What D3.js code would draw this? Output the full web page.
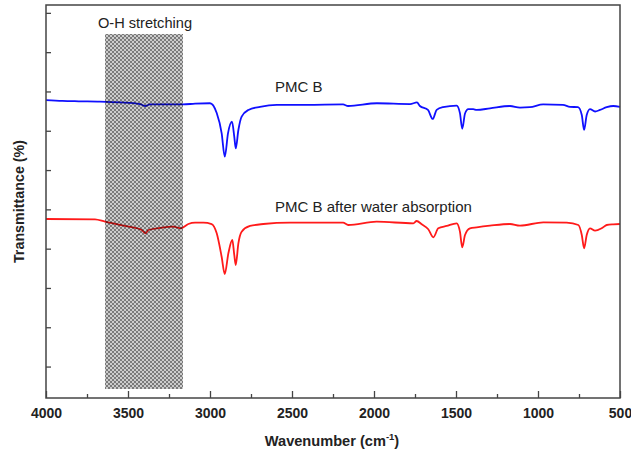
<!DOCTYPE html>
<html>
<head>
<meta charset="utf-8">
<script src="https://cdn.jsdelivr.net/npm/d3@7/dist/d3.min.js"></script>
<style>
  html, body { margin: 0; padding: 0; background: #fff; }
  svg { display: block; font-family: "Liberation Sans", Arial, sans-serif; }
</style>
</head>
<body>
<svg id="chart" width="631" height="453"></svg>
<script>
// FTIR spectra: wavenumber (cm-1) and transmittance (offset, arbitrary units)
const pmcB_wn = [4000, 3900, 3800, 3671, 3549, 3427, 3396, 3366, 3244, 3165, 3091, 3000,
  2959, 2929, 2910, 2890, 2866, 2852, 2843, 2827, 2807, 2766, 2695, 2593, 2410,
  2189, 2158, 1982, 1780, 1738, 1720, 1671, 1642, 1618, 1579, 1496, 1476, 1462,
  1445, 1425, 1395, 1374, 1293, 1171, 1110, 1049, 969, 848, 805, 756, 733, 719,
  703, 683, 652, 622, 581, 541, 500];
const pmcB_t = [67.8, 67.6, 67.5, 67.4, 67.2, 66.8, 66.3, 66.7, 66.7, 66.7, 66.9, 67.0,
  64.5, 59.4, 53.4, 59.4, 62.3, 58.5, 55.5, 60.2, 63.6, 65.3, 66.1, 66.6, 66.6,
  66.7, 66.3, 67.0, 66.8, 67.2, 66.3, 65.3, 63.0, 65.3, 66.0, 66.4, 64.5, 60.5,
  64.4, 65.5, 65.5, 65.3, 65.7, 66.3, 65.9, 66.0, 66.7, 66.6, 66.1, 66.0, 64.0, 60.2,
  64.0, 65.5, 64.9, 65.3, 66.0, 66.3, 66.1];

const wet_wn = [4000, 3701, 3640, 3518, 3416, 3392, 3376, 3295, 3224, 3177, 3132, 3091,
  3041, 2990, 2959, 2929, 2910, 2888, 2864, 2852, 2843, 2827, 2807, 2756, 2675,
  2512, 2390, 2189, 2157, 1984, 1760, 1740, 1709, 1669, 1638, 1608, 1557, 1496,
  1476, 1462, 1445, 1415, 1374, 1293, 1171, 1110, 968, 825, 754, 733, 719, 703,
  683, 652, 612, 581, 541, 500];
const wet_t = [37.55, 37.47, 36.86, 35.77, 34.75, 33.91, 34.75, 35.33, 35.59, 35.18, 36.27, 36.61,
  36.61, 36.27, 33.91, 27.95, 23.55, 28.82, 32.2, 28.39, 25.84, 31.36, 34.32, 35.77, 36.27,
  36.61, 36.61, 36.61, 36.02, 36.86, 36.45, 37.04, 36.2, 34.93, 32.89, 35.18, 35.77, 36.45,
  34.32, 30.35, 33.48, 35.18, 35.43, 35.84, 36.27, 35.84, 36.71, 36.61, 36.02, 33.48, 30.1, 33.48,
  35.18, 34.57, 35.18, 36.02, 36.2, 36.27];

const xTicksMajor = [4000, 3500, 3000, 2500, 2000, 1500, 1000, 500];
const xTicksMinor = [3750, 3250, 2750, 2250, 1750, 1250, 750];
const yTicks = [0, 10, 20, 30, 40, 50, 60, 70, 80, 90];
const ohBand = [3640, 3165];   // O-H stretching region
const ohBandT = [-5.8, 84.7];  // vertical extent of the shaded band

const seriesLabels = ["PMC B", "PMC B after water absorption"];
const labelPos = [[2603, 69.9], [2603, 39.3]];

const svg = d3.select("#chart");
const margin = { top: 5, right: 11, bottom: 55, left: 46 };
const W = 631, H = 453;
const iw = W - margin.left - margin.right;
const ih = H - margin.top - margin.bottom;

const x = d3.scaleLinear().domain([4000, 500]).range([0, iw]);
const y = d3.scaleLinear().domain([-8, 92]).range([ih, 0]);

// checkerboard fill for the shaded band
const defs = svg.append("defs");
const pat = defs.append("pattern")
  .attr("id", "checker").attr("patternUnits", "userSpaceOnUse")
  .attr("width", 4).attr("height", 4);
[[0, 0, 0.52], [2, 2, 0.52], [2, 0, 0.2], [0, 2, 0.2]].forEach(([px, py, op]) => {
  pat.append("rect").attr("x", px).attr("y", py).attr("width", 2).attr("height", 2)
    .attr("fill", "#000").attr("fill-opacity", op);
});

const g = svg.append("g").attr("transform", `translate(${margin.left},${margin.top})`);

const line = d3.line()
  .x(d => x(d[0])).y(d => y(d[1]))
  .curve(d3.curveMonotoneX);

g.append("path")
  .datum(d3.zip(pmcB_wn, pmcB_t))
  .attr("fill", "none").attr("stroke", "#1010ff").attr("stroke-width", 1.8)
  .attr("stroke-linejoin", "round")
  .attr("d", line);

g.append("path")
  .datum(d3.zip(wet_wn, wet_t))
  .attr("fill", "none").attr("stroke", "#ff1a1a").attr("stroke-width", 1.8)
  .attr("stroke-linejoin", "round")
  .attr("d", line);

// shaded O-H band drawn over the spectra
g.append("rect")
  .attr("x", x(ohBand[0])).attr("y", y(ohBandT[1]))
  .attr("width", x(ohBand[1]) - x(ohBand[0]))
  .attr("height", y(ohBandT[0]) - y(ohBandT[1]))
  .attr("fill", "url(#checker)")
  .attr("shape-rendering", "crispEdges");

g.append("text")
  .attr("x", (x(ohBand[0]) + x(ohBand[1])) / 2 + 1).attr("y", y(ohBandT[1]) - 5.5)
  .attr("text-anchor", "middle").attr("font-size", 14.6).attr("fill", "#222")
  .text("O-H stretching");

seriesLabels.forEach((s, i) => {
  g.append("text")
    .attr("x", x(labelPos[i][0])).attr("y", y(labelPos[i][1]))
    .attr("font-size", 15).attr("fill", "#222")
    .text(s);
});

// axes
const axisColor = "#444";
const xAxis = g.append("g").attr("transform", `translate(0,${ih})`)
  .call(d3.axisBottom(x).tickValues(xTicksMajor).tickSize(-7).tickPadding(10)
    .tickFormat(d3.format("d")));
const xMinor = g.append("g").attr("transform", `translate(0,${ih})`)
  .call(d3.axisBottom(x).tickValues(xTicksMinor).tickSize(-4).tickFormat(""));
const yAxis = g.append("g")
  .call(d3.axisLeft(y).tickValues(yTicks).tickSize(-5).tickFormat(""));

[xAxis, xMinor, yAxis].forEach(a => {
  a.select(".domain").remove();
  a.selectAll(".tick line").attr("stroke", axisColor).attr("stroke-width", 1.3);
});
xAxis.selectAll(".tick text")
  .attr("font-size", 14).attr("font-weight", "bold").attr("fill", "#222")
  .attr("font-family", "Liberation Sans, Arial, sans-serif");

// frame
g.append("rect").attr("x", 0).attr("y", 0).attr("width", iw).attr("height", ih)
  .attr("fill", "none").attr("stroke", axisColor).attr("stroke-width", 1.5);

// axis titles
const xt = svg.append("text")
  .attr("x", margin.left + iw / 2 - 1).attr("y", 446)
  .attr("text-anchor", "middle").attr("font-size", 14.6).attr("font-weight", "bold")
  .attr("fill", "#222");
xt.append("tspan").text("Wavenumber (cm");
xt.append("tspan").attr("font-size", 9.5).attr("dy", -6).text("-1");
xt.append("tspan").attr("dy", 6).text(")");

svg.append("text")
  .attr("transform", `translate(24,${margin.top + ih / 2}) rotate(-90)`)
  .attr("text-anchor", "middle").attr("font-size", 14.3).attr("font-weight", "bold")
  .attr("fill", "#222")
  .text("Transmittance (%)");
</script>
</body>
</html>
